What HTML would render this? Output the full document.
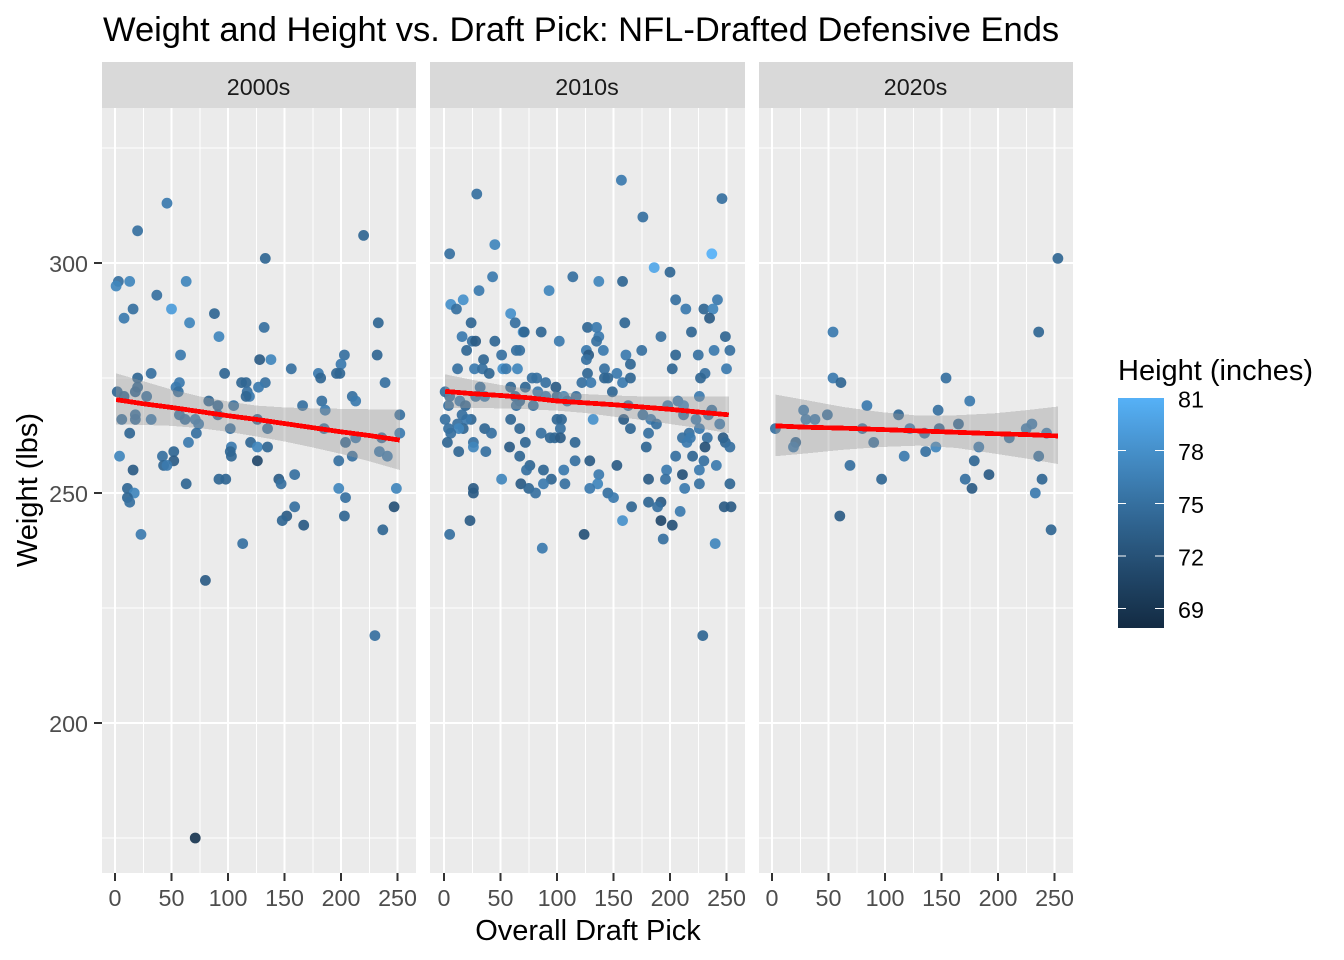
<!DOCTYPE html>
<html lang="en">
<head>
<meta charset="utf-8">
<title>Weight and Height vs. Draft Pick</title>
<style>
html,body{margin:0;padding:0;background:#fff;width:1344px;height:960px;overflow:hidden}
svg{display:block;font-family:"Liberation Sans",Arial,sans-serif}
.tick{font-size:23.3px;fill:#4D4D4D}
.axt{font-size:29px;fill:#000}
.leg{font-size:23.3px;fill:#000}
</style>
</head>
<body>
<svg id="chart" width="1344" height="960" viewBox="0 0 1344 960" xmlns="http://www.w3.org/2000/svg">
<text x="103" y="41" font-size="34.5" fill="#000">Weight and Height vs. Draft Pick: NFL-Drafted Defensive Ends</text>
<text x="588" y="940" text-anchor="middle" class="axt">Overall Draft Pick</text>
<text transform="translate(37,490) rotate(-90)" text-anchor="middle" class="axt">Weight (lbs)</text>
<text x="1118" y="380" class="axt">Height (inches)</text>
</svg>
<script>
// Each row: [overall pick, weight lbs, height inches]
const points2000s = [[46,313,76],[20,307,75],[220,306,74],[133,301,74],[3,296,75],[1,295,77],[13,296,77],[63,296,77],[37,293,75],[16,290,75],[50,290,79],[8,288,76],[88,289,74],[66,287,77],[233,287,74],[92,284,77],[132,286,75],[58,280,76],[128,279,73],[138,279,77],[203,280,75],[232,280,74],[200,278,76],[156,277,75],[180,276,76],[182,275,74],[196,276,74],[199,276,74],[32,276,75],[97,276,74],[20,275,74],[57,274,76],[112,274,74],[116,274,74],[133,274,75],[239,274,75],[54,273,76],[56,272,75],[2,272,74],[8,271,74],[18,272,74],[20,273,74],[28,271,75],[127,273,76],[117,272,75],[119,271,76],[116,271,74],[83,270,74],[91,269,74],[105,269,75],[166,269,75],[183,270,75],[186,268,76],[210,271,75],[213,270,76],[252,267,75],[252,263,76],[57,267,75],[62,266,75],[71,266,76],[74,265,76],[91,267,74],[126,266,74],[6,266,75],[18,267,75],[18,266,75],[32,266,76],[13,263,74],[72,263,75],[102,264,75],[135,264,75],[185,264,75],[204,261,74],[213,262,76],[236,262,75],[234,259,76],[241,258,76],[210,258,75],[198,257,75],[65,261,76],[52,259,74],[42,258,75],[52,257,73],[43,256,74],[46,256,76],[4,258,77],[16,255,73],[63,252,74],[92,253,74],[98,253,74],[120,261,74],[126,260,77],[135,260,74],[103,260,76],[102,259,74],[103,258,74],[126,257,71],[145,253,73],[147,252,75],[159,254,75],[198,251,77],[204,249,75],[249,251,77],[247,247,72],[203,245,74],[159,247,75],[152,245,73],[148,244,74],[167,243,73],[237,242,74],[11,251,74],[17,250,77],[11,249,74],[13,248,75],[23,241,76],[113,239,75],[71,175,69],[80,231,73],[230,219,75]];
const points2010s = [[157,318,76],[246,314,75],[29,315,75],[176,310,75],[45,304,77],[5,302,75],[237,302,81],[186,299,80],[200,298,74],[43,297,76],[114,297,75],[137,296,77],[158,296,74],[31,294,76],[93,294,77],[17,292,78],[6,291,78],[11,290,75],[205,292,75],[242,292,76],[214,290,76],[230,290,74],[238,290,77],[235,288,73],[59,289,78],[63,287,75],[24,287,74],[127,286,74],[135,286,76],[160,287,74],[137,284,76],[135,283,75],[16,284,76],[70,285,78],[71,285,74],[86,285,74],[25,283,75],[28,283,73],[45,283,74],[102,283,76],[192,284,75],[219,285,74],[249,284,74],[126,281,76],[141,281,76],[175,281,75],[239,281,76],[253,281,75],[20,281,74],[64,281,75],[67,281,75],[51,280,75],[161,280,76],[205,280,74],[225,280,75],[128,280,73],[126,279,75],[35,279,74],[165,278,74],[12,277,75],[27,277,76],[34,277,75],[40,276,74],[52,277,78],[55,277,76],[65,277,77],[127,276,74],[142,277,75],[153,276,76],[202,277,74],[231,276,75],[250,277,76],[78,275,75],[82,275,75],[90,274,75],[122,274,75],[130,274,76],[142,275,74],[145,275,74],[158,274,76],[165,275,74],[149,272,74],[227,275,74],[99,273,73],[59,273,74],[72,273,74],[32,273,75],[1,272,75],[5,271,75],[28,271,75],[36,271,76],[63,271,74],[83,272,76],[90,271,76],[100,271,74],[106,271,77],[117,271,75],[14,270,76],[19,269,74],[67,270,74],[79,269,75],[64,269,75],[4,269,75],[109,270,75],[163,269,75],[207,270,76],[198,269,76],[212,269,77],[226,271,76],[237,268,75],[176,267,75],[183,266,76],[188,265,75],[212,267,75],[223,266,76],[234,267,75],[244,265,76],[159,266,73],[132,266,78],[100,266,74],[104,266,74],[59,266,74],[24,266,74],[20,266,76],[16,267,75],[1,266,75],[12,265,75],[17,264,74],[13,264,77],[4,264,75],[6,263,75],[36,264,74],[42,263,75],[67,264,74],[103,264,75],[86,263,75],[165,264,74],[181,263,75],[226,264,76],[217,263,75],[211,262,75],[218,262,76],[215,261,76],[233,262,75],[247,262,73],[249,261,74],[253,260,75],[231,260,72],[179,260,74],[3,261,74],[26,261,75],[26,260,77],[13,259,74],[37,259,75],[58,260,73],[72,261,74],[94,262,74],[98,262,74],[103,262,73],[116,261,74],[67,258,74],[205,258,75],[220,258,74],[230,257,75],[116,257,75],[129,257,73],[76,256,74],[73,255,75],[88,255,74],[106,255,76],[153,256,73],[197,255,76],[226,255,76],[241,256,76],[137,254,76],[51,253,77],[95,253,74],[181,253,73],[196,253,75],[211,254,72],[68,252,73],[75,251,74],[88,252,76],[107,252,75],[136,252,77],[129,251,76],[213,251,76],[226,252,75],[253,252,74],[26,251,73],[26,250,73],[81,250,75],[145,250,75],[150,249,76],[181,248,74],[192,248,73],[189,247,75],[166,247,74],[209,246,76],[248,247,73],[254,247,73],[23,244,73],[158,244,78],[192,244,71],[202,243,72],[5,241,75],[124,241,72],[194,240,75],[240,239,77],[87,238,76],[229,219,74]];
const points2020s = [[54,285,76],[236,285,74],[54,275,76],[61,274,74],[154,275,75],[175,270,76],[84,269,76],[147,268,75],[28,268,76],[30,266,76],[38,266,76],[49,267,75],[112,267,74],[165,265,74],[230,265,76],[225,264,76],[3,264,75],[80,264,75],[122,264,76],[148,264,74],[243,263,76],[135,263,75],[21,261,74],[19,260,76],[90,261,75],[210,262,75],[145,260,77],[183,260,76],[136,259,75],[117,258,76],[236,258,75],[179,257,74],[69,256,75],[97,253,74],[171,253,75],[192,254,73],[239,253,74],[177,251,73],[233,250,76],[247,242,74],[60,245,73],[253,301,74]];

const fitPicks2000s = [1,25,50,75,100,125,150,175,200,225,252];
const fitValues2000s = [270.3,269.4,268.6,267.7,266.8,266,265.1,264.2,263.3,262.5,261.5];
const ciUpper2000s = [276,274.3,272.5,271,269.9,269,268.6,268.4,268.3,268.2,268.2];
const ciLower2000s = [264.9,264.8,264.6,264.1,263.3,262.3,261.2,259.9,258.5,256.9,255];

const fitPicks2010s = [1,25,50,75,100,125,150,175,200,225,252];
const fitValues2010s = [272.1,271.6,271.2,270.7,270,269.6,269.2,268.7,268.2,267.6,267];
const ciUpper2010s = [275.8,274.6,273.5,272.6,272,271.5,271.2,271,271,271,271];
const ciLower2010s = [268.4,268.5,268.4,268.2,267.9,267.4,266.6,265.9,265,264.1,263];

const fitPicks2020s = [3,30,63,96,130,163,196,225,253];
const fitValues2020s = [264.6,264.3,264.1,263.8,263.5,263.2,262.9,262.7,262.4];
const ciUpper2020s = [271.4,270.2,268.7,267.6,266.8,266.9,267.3,268,268.8];
const ciLower2020s = [258,258.6,259.4,260,260.3,259.8,258.6,257.5,256.3];

const panelLabels = ["2000s","2010s","2020s"];
const xTickValues = [0,50,100,150,200,250];
const xMinorValues = [25,75,125,175,225];
const yTickValues = [200,250,300];
const yMinorValues = [175,225,275,325];
const legendTickValues = [69,72,75,78,81];
const legendMin = 67.9;
const legendMax = 81;

const NS = "http://www.w3.org/2000/svg";
const svg = document.getElementById("chart");
const PANEL_TOP = 108, PANEL_BOTTOM = 873, STRIP_TOP = 62;
const panelGeom = [{left:102,right:416,zero:115},{left:430,right:745,zero:444},{left:759,right:1073,zero:772}];
const X_SCALE = 1.13;
function xScale(panel, pick){ return panel.zero + pick * X_SCALE; }
function yScale(weight){ return 263 + (300 - weight) * 4.6; }
function legendY(h){ return 398 + (legendMax - h) * (230 / (legendMax - legendMin)); }

function mk(tag, attrs, parent){
  const el = document.createElementNS(NS, tag);
  for (const k in attrs) el.setAttribute(k, attrs[k]);
  (parent || svg).appendChild(el);
  return el;
}

// Lab interpolation between ggplot2's default gradient end colours
function srgbToLin(c){ c/=255; return c<=0.04045 ? c/12.92 : Math.pow((c+0.055)/1.055,2.4); }
function linToSrgb(c){ c = c<=0.0031308 ? 12.92*c : 1.055*Math.pow(c,1/2.4)-0.055; return Math.max(0,Math.min(255,Math.round(c*255))); }
function hexToLab(hex){
  const r=srgbToLin(parseInt(hex.substr(1,2),16)),g=srgbToLin(parseInt(hex.substr(3,2),16)),b=srgbToLin(parseInt(hex.substr(5,2),16));
  const X=(0.4124564*r+0.3575761*g+0.1804375*b)/0.95047,Y=0.2126729*r+0.7151522*g+0.072175*b,Z=(0.0193339*r+0.119192*g+0.9503041*b)/1.08883;
  const f=t=>t>0.008856?Math.cbrt(t):7.787*t+16/116;
  return [116*f(Y)-16,500*(f(X)-f(Y)),200*(f(Y)-f(Z))];
}
function labToRgb(l){
  const fy=(l[0]+16)/116,fx=fy+l[1]/500,fz=fy-l[2]/200;
  const g=t=>t*t*t>0.008856?t*t*t:(t-16/116)/7.787;
  const X=g(fx)*0.95047,Y=g(fy),Z=g(fz)*1.08883;
  const r=3.2404542*X-1.5371385*Y-0.4985314*Z,gg=-0.969266*X+1.8760108*Y+0.041556*Z,b=0.0556434*X-0.2040259*Y+1.0572252*Z;
  return "rgb("+linToSrgb(r)+","+linToSrgb(gg)+","+linToSrgb(b)+")";
}
const labLow = hexToLab("#132B43"), labHigh = hexToLab("#56B1F7");
function heightColor(h){
  const t = Math.max(0, Math.min(1, (h - legendMin) / (legendMax - legendMin)));
  return labToRgb([0,1,2].map(i => labLow[i] + (labHigh[i] - labLow[i]) * t));
}

const panelPoints = [points2000s, points2010s, points2020s];
const panelFits = [
  [fitPicks2000s, fitValues2000s, ciUpper2000s, ciLower2000s],
  [fitPicks2010s, fitValues2010s, ciUpper2010s, ciLower2010s],
  [fitPicks2020s, fitValues2020s, ciUpper2020s, ciLower2020s]
];

panelGeom.forEach(function(panel, idx){
  const strip = mk("rect",{x:panel.left,y:STRIP_TOP,width:panel.right-panel.left,height:PANEL_TOP-STRIP_TOP,fill:"#D9D9D9"});
  
  
  const stripText = mk("text",{x:(panel.left+panel.right)/2-0.5,y:95,"text-anchor":"middle","font-size":23.3,fill:"#1A1A1A"});
  stripText.textContent = panelLabels[idx];
  
  

  const bg = mk("rect",{x:panel.left,y:PANEL_TOP,width:panel.right-panel.left,height:PANEL_BOTTOM-PANEL_TOP,fill:"#EBEBEB"});
  
  

  yMinorValues.forEach(function(v){
    const l = mk("line",{x1:panel.left,x2:panel.right,y1:yScale(v),y2:yScale(v),stroke:"#fff","stroke-width":1,"shape-rendering":"crispEdges"});
    
    
  });
  xMinorValues.forEach(function(v){
    const l = mk("line",{x1:xScale(panel,v),x2:xScale(panel,v),y1:PANEL_TOP,y2:PANEL_BOTTOM,stroke:"#fff","stroke-width":1,"shape-rendering":"crispEdges"});
    
    
  });
  yTickValues.forEach(function(v){
    const l = mk("line",{x1:panel.left,x2:panel.right,y1:yScale(v),y2:yScale(v),stroke:"#fff","stroke-width":2,"shape-rendering":"crispEdges"});
    
    
  });
  xTickValues.forEach(function(v){
    const px = xScale(panel,v);
    const l = mk("line",{x1:px,x2:px,y1:PANEL_TOP,y2:PANEL_BOTTOM,stroke:"#fff","stroke-width":2,"shape-rendering":"crispEdges"});
    
    
    const t = mk("line",{x1:px,x2:px,y1:PANEL_BOTTOM,y2:PANEL_BOTTOM+8,stroke:"#333","stroke-width":2,"shape-rendering":"crispEdges"});
    
    
    const tl = mk("text",{x:px,y:906,"text-anchor":"middle","class":"tick"});
    tl.textContent = String(v);
    
    
  });

  panelPoints[idx].forEach(function(row){
    const c = mk("circle",{cx:xScale(panel,row[0]),cy:yScale(row[1]),r:5.4,fill:heightColor(row[2]),"fill-opacity":0.92});
    
    
  });

  const fit = panelFits[idx];
  const up = fit[0].map((p,i) => xScale(panel,p)+","+yScale(fit[2][i]));
  const lo = fit[0].map((p,i) => xScale(panel,p)+","+yScale(fit[3][i])).reverse();
  const ribbon = mk("polygon",{points:up.concat(lo).join(" "),fill:"#999","fill-opacity":0.4,"shape-rendering":"crispEdges"});
  
  
  const trend = mk("polyline",{points:fit[0].map((p,i) => xScale(panel,p)+","+yScale(fit[1][i])).join(" "),fill:"none",stroke:"#FF0000","stroke-width":4.8,"shape-rendering":"crispEdges"});
  
  
});

yTickValues.forEach(function(v){
  const t = mk("line",{x1:94,x2:102,y1:yScale(v),y2:yScale(v),stroke:"#333","stroke-width":2,"shape-rendering":"crispEdges"});
  
  
  const tl = mk("text",{x:88,y:yScale(v)+9,"text-anchor":"end","class":"tick"});
  tl.textContent = String(v);
  
  
});

// Colour bar legend
const defs = mk("defs",{});
const grad = mk("linearGradient",{id:"heightGrad",x1:0,y1:1,x2:0,y2:0},defs);
for (let i = 0; i <= 20; i++){
  mk("stop",{offset:(i*5)+"%","stop-color":heightColor(legendMin+(legendMax-legendMin)*i/20)},grad);
}
const bar = mk("rect",{x:1118,y:398,width:46,height:230,fill:"url(#heightGrad)"});


legendTickValues.forEach(function(v){
  const y = legendY(v);
  if (v < legendMax){
    const a = mk("line",{x1:1118,x2:1126,y1:y,y2:y,stroke:"#fff","stroke-width":1,"shape-rendering":"crispEdges"});
    
    
    const b = mk("line",{x1:1155,x2:1164,y1:y,y2:y,stroke:"#fff","stroke-width":1,"shape-rendering":"crispEdges"});
    
    
  }
  const tl = mk("text",{x:1178,y:y+9.5,"class":"leg"});
  tl.textContent = String(v);
  
  
});
</script>
</body>
</html>
